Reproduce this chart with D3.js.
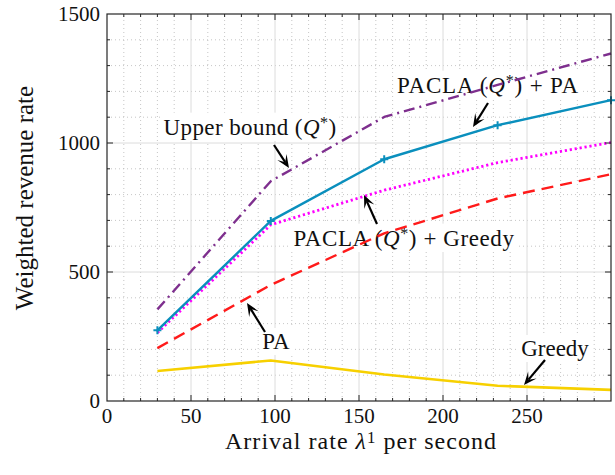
<!DOCTYPE html>
<html>
<head>
<meta charset="utf-8">
<script src="https://cdn.jsdelivr.net/npm/d3@7/dist/d3.min.js"></script>
<style>
  html, body { margin: 0; padding: 0; background: #fff; }
  svg text { font-family: "Liberation Serif", "DejaVu Serif", serif; fill: #111; }
</style>
</head>
<body>
<svg id="chart" width="615" height="475"></svg>
<script>
// Arrival rates at which each policy was evaluated
const arrivalRates = [30, 97.5, 165, 232.5, 300];

// Weighted revenue rate per policy
const upperBound   = [355, 852, 1101, 1225, 1347];
const paclaPA      = [274, 698, 937, 1069, 1166];
const paclaGreedy  = [265, 683, 817, 924, 1002];
const paOnly       = [205, 450, 650, 785, 879];
const greedyOnly   = [116, 157, 103, 59, 43];

// Axis ticks
const xTicks = [0, 50, 100, 150, 200, 250];
const yTicks = [0, 500, 1000, 1500];

const W = 615, H = 475;
const m = { left: 107, right: 4, top: 14, bottom: 74 };
const svg = d3.select("#chart");

const x = d3.scaleLinear().domain([0, 300]).range([m.left, W - m.right]);
const y = d3.scaleLinear().domain([0, 1500]).range([H - m.bottom, m.top]);
const [x0, x1] = x.range();
const [y0, y1] = y.range();

const series = [
  { name: "upper", vals: upperBound,  color: "#7e2f8e", dash: "11,5,2,5", width: 2.4 },
  { name: "pa",    vals: paOnly,      color: "#ff1a1a", dash: "12,7",     width: 2.4 },
  { name: "pg",    vals: paclaGreedy, color: "#ff00ff", dash: "2.2,2.8",  width: 2.8 },
  { name: "ppa",   vals: paclaPA,     color: "#0a8fbd", dash: null,       width: 2.4, marker: true },
  { name: "greedy",vals: greedyOnly,  color: "#f7d000", dash: null,       width: 2.6 }
];

// Minor grid (dotted)
const g = svg.append("g");
const xMinor = d3.range(10, 300, 10).filter(v => v % 50 !== 0);
const yMinor = d3.range(100, 1500, 100).filter(v => v % 500 !== 0);
g.selectAll(".xm").data(xMinor).join("line")
  .attr("x1", d => x(d)).attr("x2", d => x(d)).attr("y1", y0).attr("y2", y1)
  .attr("stroke", "#b8b8b8").attr("stroke-width", 0.8).attr("stroke-dasharray", "1,3");
g.selectAll(".ym").data(yMinor).join("line")
  .attr("x1", x0).attr("x2", x1).attr("y1", d => y(d)).attr("y2", d => y(d))
  .attr("stroke", "#b8b8b8").attr("stroke-width", 0.8).attr("stroke-dasharray", "1,3");

// Major grid (solid, light)
g.selectAll(".xM").data(xTicks.filter(v => v > 0 && v < 300)).join("line")
  .attr("x1", d => x(d)).attr("x2", d => x(d)).attr("y1", y0).attr("y2", y1)
  .attr("stroke", "#dcdcdc").attr("stroke-width", 1);
g.selectAll(".yM").data(yTicks.filter(v => v > 0 && v < 1500)).join("line")
  .attr("x1", x0).attr("x2", x1).attr("y1", d => y(d)).attr("y2", d => y(d))
  .attr("stroke", "#dcdcdc").attr("stroke-width", 1);

// Text with italic / superscript runs, letter-spaced out to a set width
function richLabel(parent, px, py, parts, fs, width, raise = 0.32) {
  const t = parent.append("text").attr("x", px).attr("y", py)
    .attr("font-size", fs).attr("text-anchor", "middle");
  parts.forEach(p => {
    const ts = t.append("tspan").text(p.t);
    if (p.i) ts.attr("font-style", "italic");
    if (p.sup) ts.attr("font-size", fs * 0.7).attr("dy", -fs * raise);
    if (p.down) ts.attr("dy", fs * raise);
  });
  if (width) {
    const n = parts.reduce((s, p) => s + p.t.length, 0);
    const w = t.node().getComputedTextLength();
    t.attr("letter-spacing", Math.max(0, (width - w) / n));
  }
  return t;
}
const q = (pre, post) => [{ t: pre }, { t: "Q", i: true }, { t: "*", sup: true }, { t: post, down: true }];

const FS = 23;
const notes = [
  { x: 250, y: 135, w: 173, parts: q("Upper bound (", ")"), a: [274, 145, 289, 168] },
  { x: 488, y: 93,  w: 182, parts: q("PACLA (", ") + PA"), a: [488, 103, 473, 127] },
  { x: 404, y: 246, w: 221, parts: q("PACLA (", ") + Greedy"), a: [377, 224, 364, 195] },
  { x: 276, y: 349, w: 27,  parts: [{ t: "PA" }], a: [265, 332, 247, 303] },
  { x: 555, y: 356, w: 66,  parts: [{ t: "Greedy" }], a: [545, 360, 524, 385] }
];
const noteG = svg.append("g");
notes.forEach(n => {
  const box = noteG.append("rect").attr("fill", "#fff");
  const t = richLabel(noteG, n.x, n.y, n.parts, FS, n.w);
  const b = t.node().getBBox();
  box.attr("x", b.x - 3).attr("y", b.y - 1).attr("width", b.width + 6).attr("height", b.height + 2);
});

// Data lines
const line = d3.line().x((d, i) => x(arrivalRates[i])).y(d => y(d));
const lg = svg.append("g");
series.forEach(s => {
  lg.append("path").datum(s.vals).attr("d", line)
    .attr("fill", "none").attr("stroke", s.color).attr("stroke-width", s.width)
    .attr("stroke-dasharray", s.dash).attr("stroke-linejoin", "round");
  if (s.marker) {
    const mk = lg.selectAll(".mk-" + s.name).data(s.vals).join("g")
      .attr("transform", (d, i) => `translate(${x(arrivalRates[i])},${y(d)})`);
    mk.append("path").attr("d", "M-4,0H4M0,-4V4").attr("stroke", s.color).attr("stroke-width", 2);
  }
});

// Arrows
const ag = svg.append("g");
notes.forEach(n => {
  const [ax, ay, bx, by] = n.a;
  const ang = Math.atan2(by - ay, bx - ax);
  const L = 11, Wd = 5.5, back = 4;
  const ux = Math.cos(ang), uy = Math.sin(ang);
  const px = -uy, py = ux;
  const baseX = bx - ux * L, baseY = by - uy * L;
  ag.append("line").attr("x1", ax).attr("y1", ay).attr("x2", baseX + ux * back).attr("y2", baseY + uy * back)
    .attr("stroke", "#000").attr("stroke-width", 2.2);
  const pts = [
    [bx, by],
    [baseX + px * Wd - ux * 2, baseY + py * Wd - uy * 2],
    [baseX + ux * back, baseY + uy * back],
    [baseX - px * Wd - ux * 2, baseY - py * Wd - uy * 2]
  ];
  ag.append("path").attr("d", "M" + pts.map(p => p.join(",")).join("L") + "Z").attr("fill", "#000");
});

// Axes box, ticks and labels
const axG = svg.append("g");
const axisColor = "#262626";
d3.range(10, 300, 10).forEach(v => {
  const len = v % 50 === 0 ? 6 : 3;
  axG.append("line").attr("x1", x(v)).attr("x2", x(v)).attr("y1", y0).attr("y2", y0 - len).attr("stroke", axisColor);
  axG.append("line").attr("x1", x(v)).attr("x2", x(v)).attr("y1", y1).attr("y2", y1 + len).attr("stroke", axisColor);
});
d3.range(100, 1500, 100).forEach(v => {
  const len = v % 500 === 0 ? 6 : 3;
  axG.append("line").attr("y1", y(v)).attr("y2", y(v)).attr("x1", x0).attr("x2", x0 + len).attr("stroke", axisColor);
  axG.append("line").attr("y1", y(v)).attr("y2", y(v)).attr("x1", x1).attr("x2", x1 - len).attr("stroke", axisColor);
});
axG.append("rect").attr("x", x0).attr("y", y1).attr("width", x1 - x0).attr("height", y0 - y1)
  .attr("fill", "none").attr("stroke", axisColor).attr("stroke-width", 1.2);

const TFS = 21;
axG.selectAll(".xt").data(xTicks).join("text")
  .attr("x", d => x(d)).attr("y", 423).attr("text-anchor", "middle").attr("font-size", TFS)
  .text(d => d);
axG.selectAll(".yt").data(yTicks).join("text")
  .attr("x", 100).attr("y", d => y(d) + 7).attr("text-anchor", "end").attr("font-size", TFS)
  .text(d => d);

richLabel(axG, 361, 449,
  [{ t: "Arrival rate " }, { t: "λ", i: true }, { t: "1", sup: true }, { t: " per second", down: true }], 24, 272, 0.25);

const yl = axG.append("text").attr("transform", "translate(33,198) rotate(-90)")
  .attr("text-anchor", "middle").attr("font-size", 25)
  .text("Weighted revenue rate");
const ylw = yl.node().getComputedTextLength();
yl.attr("letter-spacing", Math.max(0, (215 - ylw) / 21));
</script>
</body>
</html>
